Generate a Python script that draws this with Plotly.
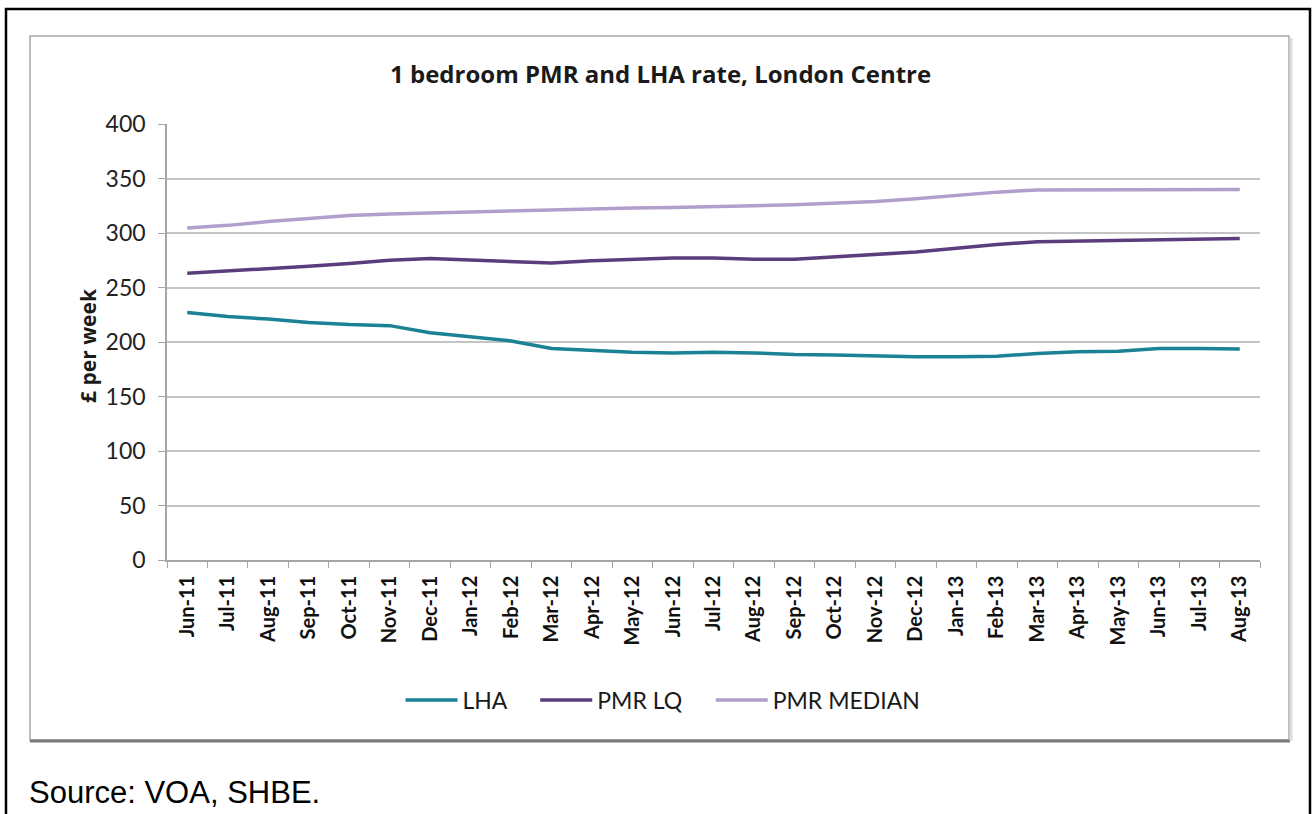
import plotly.graph_objects as go

months = ["Jun-11", "Jul-11", "Aug-11", "Sep-11", "Oct-11", "Nov-11", "Dec-11",
          "Jan-12", "Feb-12", "Mar-12", "Apr-12", "May-12", "Jun-12", "Jul-12",
          "Aug-12", "Sep-12", "Oct-12", "Nov-12", "Dec-12", "Jan-13", "Feb-13",
          "Mar-13", "Apr-13", "May-13", "Jun-13", "Jul-13", "Aug-13"]
lha = [227, 223.5, 221, 218, 216, 215, 208.5, 205, 201, 194, 192, 190.5, 190, 190.5,
       190, 188.5, 188, 187, 186.5, 186.5, 187, 189.5, 191, 191.5, 194, 194, 193.5]
pmr_lq = [263, 265, 267.5, 269.5, 272, 275, 276.5, 275, 273.5, 272.5, 274.5, 276, 277, 277,
          276, 276, 278, 280, 282.5, 286, 289.5, 292, 292.5, 293.5, 294, 294.5, 295]
pmr_median = [304.5, 307, 310.5, 313.5, 316, 317.5, 318.5, 319.5, 320.5, 321.5, 322.5, 323, 323.5,
              324, 325, 326, 327.5, 329, 331.5, 334.5, 337.5, 339.5, 339.5, 339.5, 340, 340, 340]
y_ticks = [0, 50, 100, 150, 200, 250, 300, 350, 400]

W, H = 1314, 814
L, R, T, B = 167, 1260, 124, 560
pw, ph = R - L, B - T


def px(x):
    return (x - L) / pw


def py(y):
    return (B - y) / ph


FONT = "Lato"
GAP = "\u00a0" * 4

fig = go.Figure()
series = [("LHA" + GAP, lha, "#1b8195"), ("PMR LQ" + GAP, pmr_lq, "#5a3d7c"),
          ("PMR MEDIAN", pmr_median, "#b09fcc")]
for name, vals, col in series:
    fig.add_trace(go.Scatter(x=months, y=vals, name=name, mode="lines",
                             line=dict(color=col, width=3.5)))

shapes = [
    dict(type="rect", xref="paper", yref="paper", x0=px(6), x1=px(1310), y0=py(840), y1=py(9),
         line=dict(color="black", width=2.5), fillcolor="rgba(0,0,0,0)", layer="below"),
    dict(type="rect", xref="paper", yref="paper", x0=px(30), x1=px(1289), y0=py(740), y1=py(36),
         line=dict(color="#a8a8a8", width=1.5), fillcolor="rgba(0,0,0,0)", layer="below"),
    dict(type="line", xref="paper", yref="paper", x0=px(30), x1=px(1290), y0=py(741), y1=py(741),
         line=dict(color="#7a7a7a", width=3)),
    dict(type="line", xref="paper", yref="paper", x0=px(1291), x1=px(1291), y0=py(741), y1=py(38),
         line=dict(color="#dcdcdc", width=3)),
]

annotations = [
    dict(text="<b>1 bedroom PMR and LHA rate, London Centre</b>", xref="paper", yref="paper",
         x=px(660), y=py(74), xanchor="center", yanchor="middle", showarrow=False,
         font=dict(family="Open Sans", size=24, color="#1a1a1a")),
    dict(text="<b>£ per week</b>", xref="paper", yref="paper", x=px(88), y=py(346),
         xanchor="center", yanchor="middle", textangle=-90, showarrow=False,
         font=dict(family="Open Sans", size=21, color="#1a1a1a")),
    dict(text="Source: VOA, SHBE.", xref="paper", yref="paper", x=px(27), y=py(793),
         xanchor="left", yanchor="middle", showarrow=False,
         font=dict(family="Liberation Sans", size=31, color="black")),
]

fig.update_layout(
    width=W, height=H,
    margin=dict(l=L, r=W - R, t=T, b=H - B, pad=0),
    paper_bgcolor="white", plot_bgcolor="white",
    showlegend=True,
    legend=dict(orientation="h", x=px(663), xanchor="center", y=py(700), yanchor="middle",
                font=dict(family=FONT, size=23, color="#1a1a1a"), itemwidth=52,
                bgcolor="rgba(0,0,0,0)"),
    shapes=shapes, annotations=annotations,
    xaxis=dict(type="category", categoryorder="array", categoryarray=months,
               range=[-0.5, len(months) - 0.5], showgrid=False,
               showline=True, linecolor="#a6a6a6", linewidth=1.5,
               ticks="outside", tickson="boundaries", ticklen=6, tickcolor="#a6a6a6",
               tickangle=-90, ticklabelstandoff=6,
               tickfont=dict(family=FONT, size=20, color="#111111", weight="bold"),
               fixedrange=True),
    yaxis=dict(range=[0, 400], tickvals=y_ticks, showgrid=True, gridcolor="#c4c4c4", gridwidth=1.5,
               showline=True, linecolor="#a6a6a6", linewidth=1.5, zeroline=False,
               ticks="outside", ticklen=7, tickcolor="#a6a6a6", ticklabelstandoff=8,
               tickfont=dict(family=FONT, size=23, color="#222222"), fixedrange=True),
)

fig.write_html("out.html")
